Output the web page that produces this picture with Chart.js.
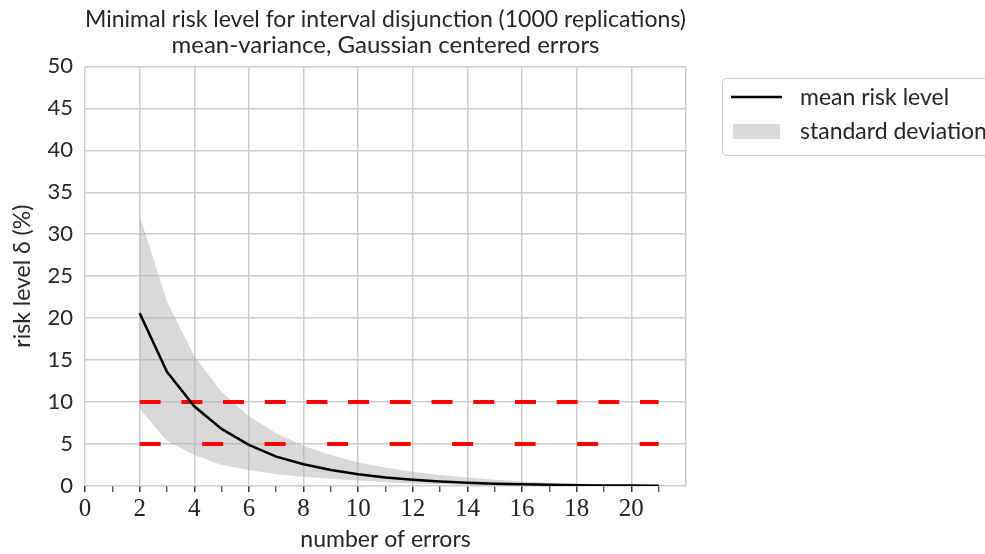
<!DOCTYPE html>
<html>
<head>
<meta charset="utf-8">
<script src="https://cdn.jsdelivr.net/npm/chart.js@4/dist/chart.umd.min.js"></script>
<style>
  html, body { margin: 0; padding: 0; background: #fff; overflow: hidden; }
  #wrap { width: 985px; height: 554px; }
</style>
</head>
<body>
<div id="wrap"><canvas id="risk-chart" width="985" height="554"></canvas></div>
<script>
// number of errors on the x axis
const errors = [2, 3, 4, 5, 6, 7, 8, 9, 10, 11, 12, 13, 14, 15, 16, 17, 18, 19, 20, 21];
// mean risk level (%) and the band edges (mean +/- standard deviation)
const meanRisk = [20.6, 13.6, 9.5, 6.8, 4.9, 3.5, 2.6, 1.9, 1.4, 1.0, 0.75, 0.55, 0.4, 0.28, 0.2, 0.14, 0.1, 0.07, 0.05, 0.03];
const upperSd = [32.2, 22.0, 15.5, 11.2, 8.3, 6.3, 4.8, 3.7, 2.8, 2.2, 1.7, 1.3, 1.0, 0.75, 0.55, 0.4, 0.3, 0.2, 0.15, 0.1];
const lowerSd = [9.2, 5.4, 3.7, 2.5, 1.9, 1.4, 1.1, 0.85, 0.65, 0.45, 0.3, 0.2, 0.14, 0.1, 0.07, 0.05, 0.03, 0.02, 0.01, 0.0];
// reference thresholds drawn as red dashed lines
const thresholds = [10, 5];
const thresholdRange = [2, 21];
const yTicks = [0, 5, 10, 15, 20, 25, 30, 35, 40, 45, 50];

const bandColor = 'rgba(170, 170, 170, 0.45)';
const textColor = '#262626';
const sansFont = 'Lato, "Liberation Sans", sans-serif';

function pts(ys) {
    return errors.map((x, i) => ({ x: x, y: ys[i] }));
}

function thresholdLine(v) {
    return thresholdRange.map(x => ({ x: x, y: v }));
}

// legend drawn as a box to the right of the plot
const legendBox = {
    id: 'legendBox',
    afterDraw(chart) {
        const c = chart.ctx;
        c.save();
        c.strokeStyle = '#cccccc';
        c.lineWidth = 1;
        c.beginPath();
        c.roundRect(722.5, 78.5, 300, 77, 4);
        c.stroke();

        c.strokeStyle = '#000';
        c.lineWidth = 2.5;
        c.beginPath();
        c.moveTo(731, 97);
        c.lineTo(782, 97);
        c.stroke();

        c.fillStyle = bandColor;
        c.fillRect(733, 124, 47, 15);

        c.fillStyle = textColor;
        c.font = '23px ' + sansFont;
        c.textBaseline = 'middle';
        c.fillText(chart.data.datasets[2].label, 800, 98);
        c.fillText(chart.data.datasets[0].label, 800, 132);
        c.restore();
    }
};

const ctx = document.getElementById('risk-chart').getContext('2d');

const chart = new Chart(ctx, {
    type: 'line',
    data: {
        datasets: [
            {
                label: 'standard deviation',
                data: pts(upperSd),
                borderWidth: 0,
                pointRadius: 0,
                backgroundColor: bandColor,
                fill: '+1',
                tension: 0,
                order: 5
            },
            {
                label: 'lower',
                data: pts(lowerSd),
                borderWidth: 0,
                pointRadius: 0,
                fill: false,
                order: 6
            },
            {
                label: 'mean risk level',
                data: pts(meanRisk),
                borderColor: '#000',
                borderWidth: 2.5,
                pointRadius: 0,
                fill: false,
                tension: 0,
                order: 1
            },
            {
                label: 'threshold 10',
                data: thresholdLine(thresholds[0]),
                borderColor: '#ff0000',
                borderWidth: 4,
                borderDash: [21, 20.7],
                pointRadius: 0,
                fill: false,
                order: 2
            },
            {
                label: 'threshold 5',
                data: thresholdLine(thresholds[1]),
                borderColor: '#ff0000',
                borderWidth: 4,
                borderDash: [21, 41.5],
                pointRadius: 0,
                fill: false,
                order: 2
            }
        ]
    },
    options: {
        responsive: false,
        animation: false,
        layout: { padding: { left: 0, right: 299, top: 0, bottom: 0 } },
        plugins: {
            legend: { display: false },
            tooltip: { enabled: false },
            title: {
                display: true,
                fullSize: false,
                text: ['Minimal risk level for interval disjunction (1000 replications)',
                       'mean-variance, Gaussian centered errors'],
                color: textColor,
                font: { family: sansFont, size: 24, weight: 'normal', lineHeight: 1.05 },
                padding: { top: 7, bottom: 9 }
            }
        },
        scales: {
            x: {
                type: 'linear',
                min: 0,
                max: 22,
                afterFit: s => { s.height = 68; },
                border: { display: false },
                grid: {
                    color: c => (c.tick && c.tick.value % 2 === 0) ? '#cccccc' : 'rgba(0,0,0,0)',
                    tickColor: c => (c.tick && c.tick.value < 22) ? '#333333' : 'rgba(0,0,0,0)',
                    tickWidth: c => (c.tick && c.tick.value % 2 === 0) ? 1.5 : 1.2,
                    lineWidth: 1.5,
                    tickLength: 6
                },
                ticks: {
                    stepSize: 1,
                    autoSkip: false,
                    maxRotation: 0,
                    color: textColor,
                    padding: 2,
                    font: { family: '"Liberation Serif", "DejaVu Serif", serif', size: 25 },
                    callback: v => (v % 2 === 0 && v <= 20) ? String(v) : ''
                },
                title: {
                    display: true,
                    text: 'number of errors',
                    color: textColor,
                    font: { family: sansFont, size: 23 },
                    padding: { top: 0, bottom: 1 }
                }
            },
            y: {
                min: 0,
                max: 50,
                afterFit: s => { s.width = 85; },
                afterBuildTicks: s => { s.ticks = yTicks.map(v => ({ value: v })); },
                border: { display: false },
                grid: {
                    color: '#cccccc',
                    lineWidth: 1.5,
                    drawTicks: false
                },
                ticks: {
                    color: textColor,
                    padding: 12,
                    font: { family: sansFont, size: 22 }
                },
                title: {
                    display: true,
                    text: 'risk level δ (%)',
                    color: textColor,
                    font: { family: sansFont, size: 23 },
                    padding: { top: 9, bottom: 4 }
                }
            }
        }
    },
    plugins: [legendBox]
});
</script>
</body>
</html>
